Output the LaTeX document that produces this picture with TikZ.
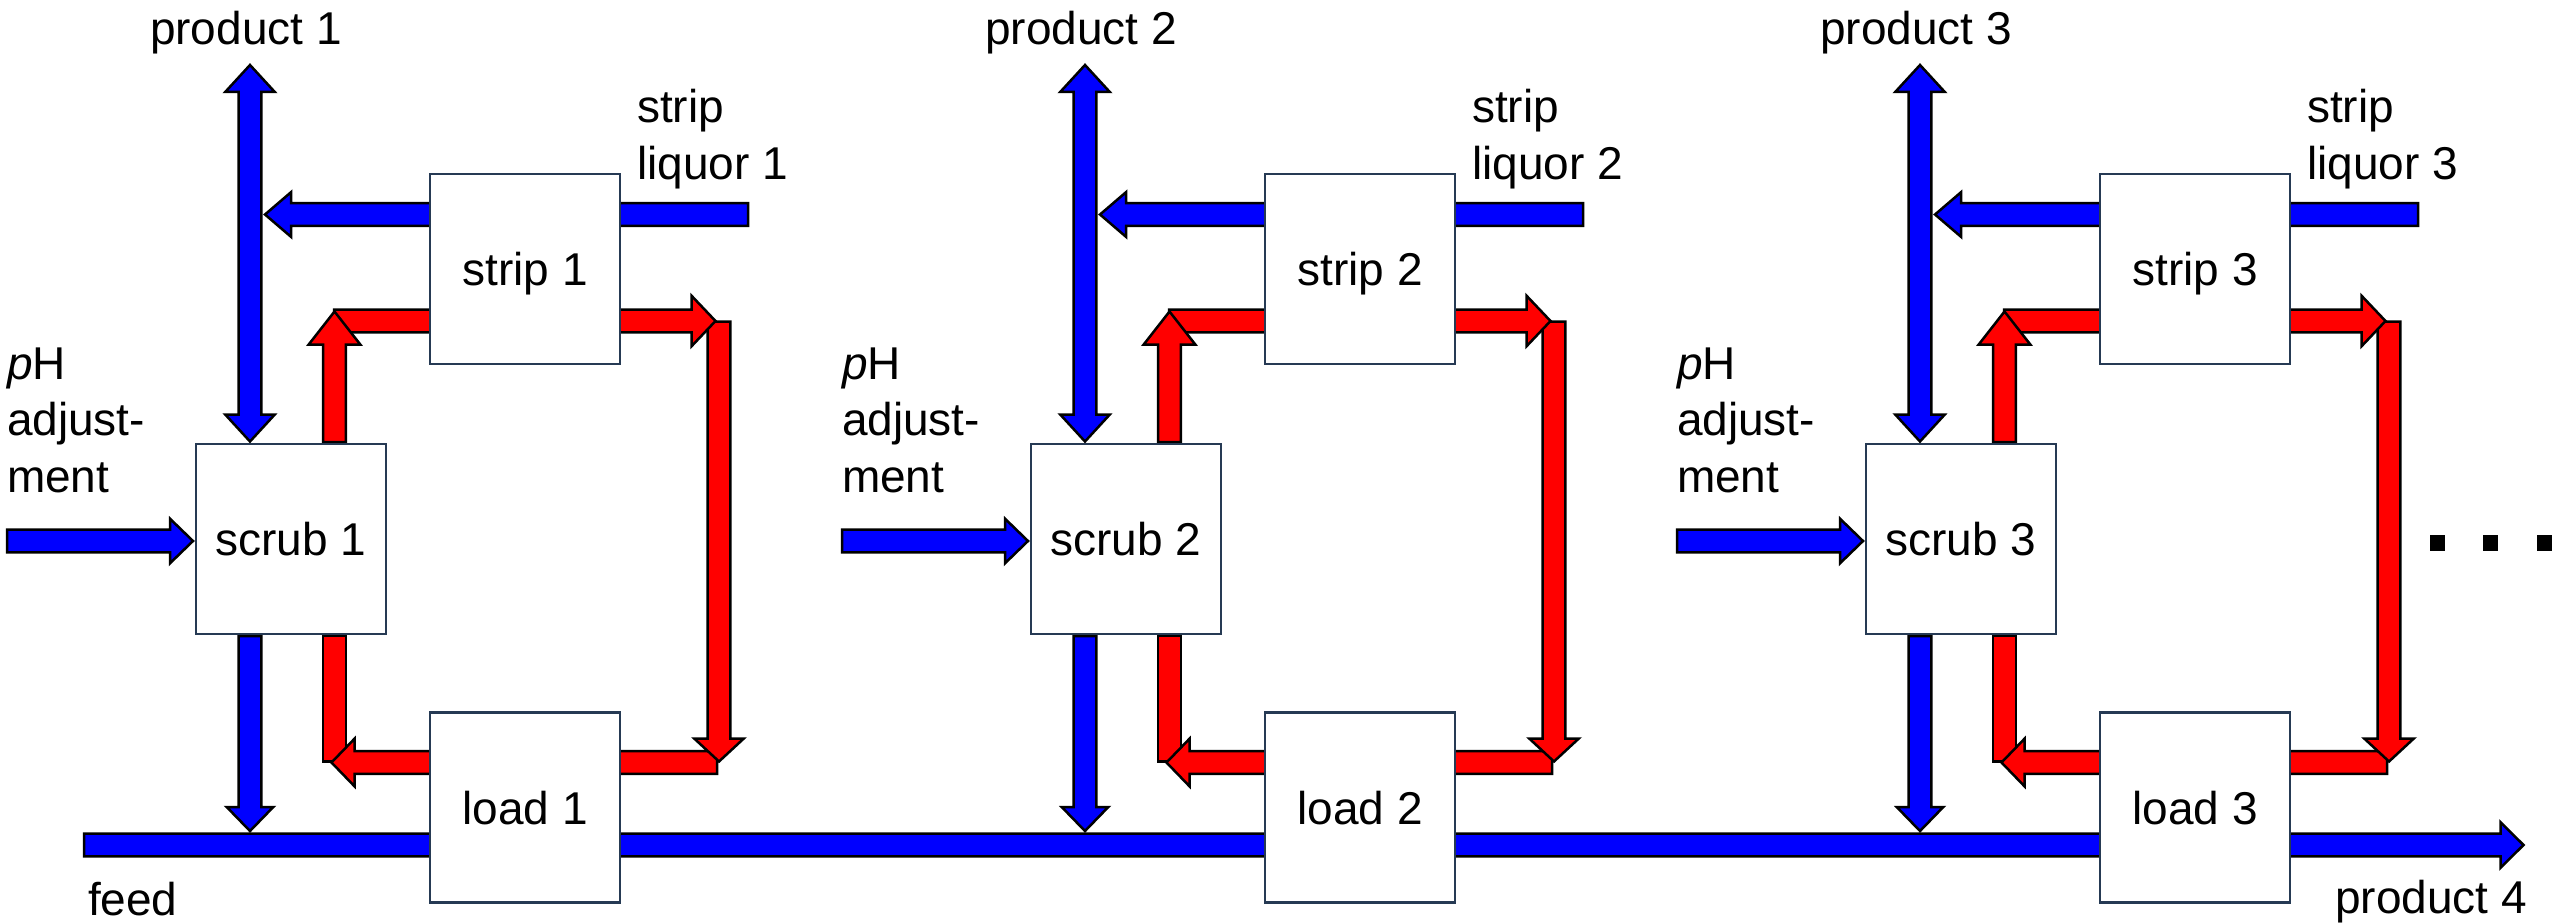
\documentclass[tikz,border=0pt]{standalone}
\usepackage{fontspec}
\setmainfont{Liberation Sans}
\usetikzlibrary{calc,backgrounds}
\definecolor{boxline}{RGB}{38,58,84}
\definecolor{pblue}{RGB}{0,0,255}
\definecolor{pred}{RGB}{255,0,0}
\tikzset{
  arrowline/.style={draw=black, line width=2.5pt, line join=miter},
  box/.style={draw=boxline, line width=2.5pt, fill=white, minimum width=190pt, minimum height=190pt,
    inner sep=0pt, outer sep=0pt, text height=33pt, text depth=0pt, font=\fontsize{46pt}{50pt}\selectfont},
  lbl/.style={inner sep=0pt, outer sep=0pt, font=\fontsize{46pt}{50pt}\selectfont},
  dotsq/.style={fill=black, draw=none, inner sep=0pt, minimum width=15pt, minimum height=16pt},
}
% block arrow from #1 to tip #2, fill #3, half shaft #4, half head #5, head length #6
\newcommand\blockarrow[6]{%
  \coordinate (ba-h) at ($(#2)!#6!(#1)$);
  \filldraw[arrowline, fill=#3] ($(#1)!#4!90:(#2)$) -- ($(ba-h)!#4!90:(#2)$) -- ($(ba-h)!#5!90:(#2)$) -- (#2)
    -- ($(ba-h)!#5!-90:(#2)$) -- ($(ba-h)!#4!-90:(#2)$) -- ($(#1)!#4!-90:(#2)$) -- cycle;
}
\newcommand\dblblockarrow[6]{%
  \coordinate (ba-a) at ($(#1)!#6!(#2)$);
  \coordinate (ba-b) at ($(#2)!#6!(#1)$);
  \filldraw[arrowline, fill=#3] (#1) -- ($(ba-a)!#5!90:(#2)$) -- ($(ba-a)!#4!90:(#2)$) -- ($(ba-b)!#4!90:(#2)$)
    -- ($(ba-b)!#5!90:(#2)$) -- (#2) -- ($(ba-b)!#5!-90:(#2)$) -- ($(ba-b)!#4!-90:(#2)$)
    -- ($(ba-a)!#4!-90:(#2)$) -- ($(ba-a)!#5!-90:(#2)$) -- cycle;
}
\newcommand\blockbar[4]{%
  \filldraw[arrowline, fill=#3] ($(#1)!#4!90:(#2)$) -- ($(#2)!#4!-90:(#1)$) -- ($(#2)!#4!90:(#1)$) -- ($(#1)!#4!-90:(#2)$) -- cycle;
}
\begin{document}
\begin{tikzpicture}[x=1pt,y=-1pt]
\useasboundingbox (0,0) rectangle (2552,923);
% boxes and labels
\foreach \i/\dx in {1/0,2/835,3/1670}{
  \node[box] (scrub\i) at ({291+\dx},539) {scrub \i};
  \node[box] (strip\i) at ({525+\dx},269) {strip \i};
  \node[box] (load\i) at ({525+\dx},807.5) {load \i};
  \node[lbl, anchor=base] (prod\i) at ({246+\dx},45) {product \i};
  \node[lbl, anchor=base west] (slA\i) at ({637+\dx},123) {strip};
  \node[lbl, anchor=base west] (slB\i) at ({637+\dx},179) {liquor \i};
  \node[lbl, anchor=base west] (phA\i) at ({7+\dx},379) {\textit{p}H};
  \node[lbl, anchor=base west] (phB\i) at ({7+\dx},435) {adjust-};
  \node[lbl, anchor=base west] (phC\i) at ({7+\dx},492) {ment};
  % coordinates for the flows
  \coordinate (prT\i) at ({250+\dx},65);
  \coordinate (prB\i) at ({250+\dx},441.5);
  \coordinate (slT\i) at ({748+\dx},214.5);
  \coordinate (slH\i) at ({265+\dx},214.5);
  \coordinate (phT\i) at ({7+\dx},541);
  \coordinate (phH\i) at ({193+\dx},541);
  \coordinate (sdT\i) at ({250+\dx},636);
  \coordinate (sdH\i) at ({250+\dx},831);
  \coordinate (r1T\i) at ({334.5+\dx},442);
  \coordinate (r1H\i) at ({334.5+\dx},311.5);
  \coordinate (r2T\i) at ({334+\dx},321);
  \coordinate (r2H\i) at ({715.5+\dx},321);
  \coordinate (r3T\i) at ({719+\dx},321.5);
  \coordinate (r3H\i) at ({719+\dx},761.5);
  \coordinate (r4T\i) at ({717+\dx},762.5);
  \coordinate (r4H\i) at ({331.5+\dx},762.5);
  \coordinate (r5T\i) at ({334.5+\dx},636);
  \coordinate (r5H\i) at ({334.5+\dx},761.5);
}
\node[lbl, anchor=base west] (feedlbl) at (88,915) {feed};
\node[lbl, anchor=base east] (prod4) at (2527,913) {product 4};
\coordinate (feedT) at (84,845);
\coordinate (feedH) at (2523.5,845);
\node[dotsq, anchor=north west] (d1) at (2430,535) {};
\node[dotsq, anchor=north west] (d2) at (2483,535) {};
\node[dotsq, anchor=north west] (d3) at (2537,535) {};
% flows behind the boxes
\begin{pgfonlayer}{background}
  \blockarrow{feedT}{feedH}{pblue}{11.3pt}{22.8pt}{23pt}
  \foreach \i in {1,2,3}{
    \blockarrow{sdT\i}{sdH\i}{pblue}{11.3pt}{23.3pt}{24pt}
    \dblblockarrow{prT\i}{prB\i}{pblue}{11.3pt}{24.8pt}{27pt}
    \blockarrow{slT\i}{slH\i}{pblue}{11.3pt}{22.3pt}{26pt}
    \blockarrow{phT\i}{phH\i}{pblue}{11.3pt}{22.3pt}{23pt}
    \blockbar{r5T\i}{r5H\i}{pred}{11.3pt}
    \blockarrow{r4T\i}{r4H\i}{pred}{11.3pt}{23.8pt}{23pt}
    \blockarrow{r3T\i}{r3H\i}{pred}{11.3pt}{24.8pt}{23pt}
    \blockarrow{r2T\i}{r2H\i}{pred}{11.3pt}{25.3pt}{24pt}
    \blockarrow{r1T\i}{r1H\i}{pred}{11.3pt}{25.8pt}{33pt}
  }
\end{pgfonlayer}
\end{tikzpicture}
\end{document}
